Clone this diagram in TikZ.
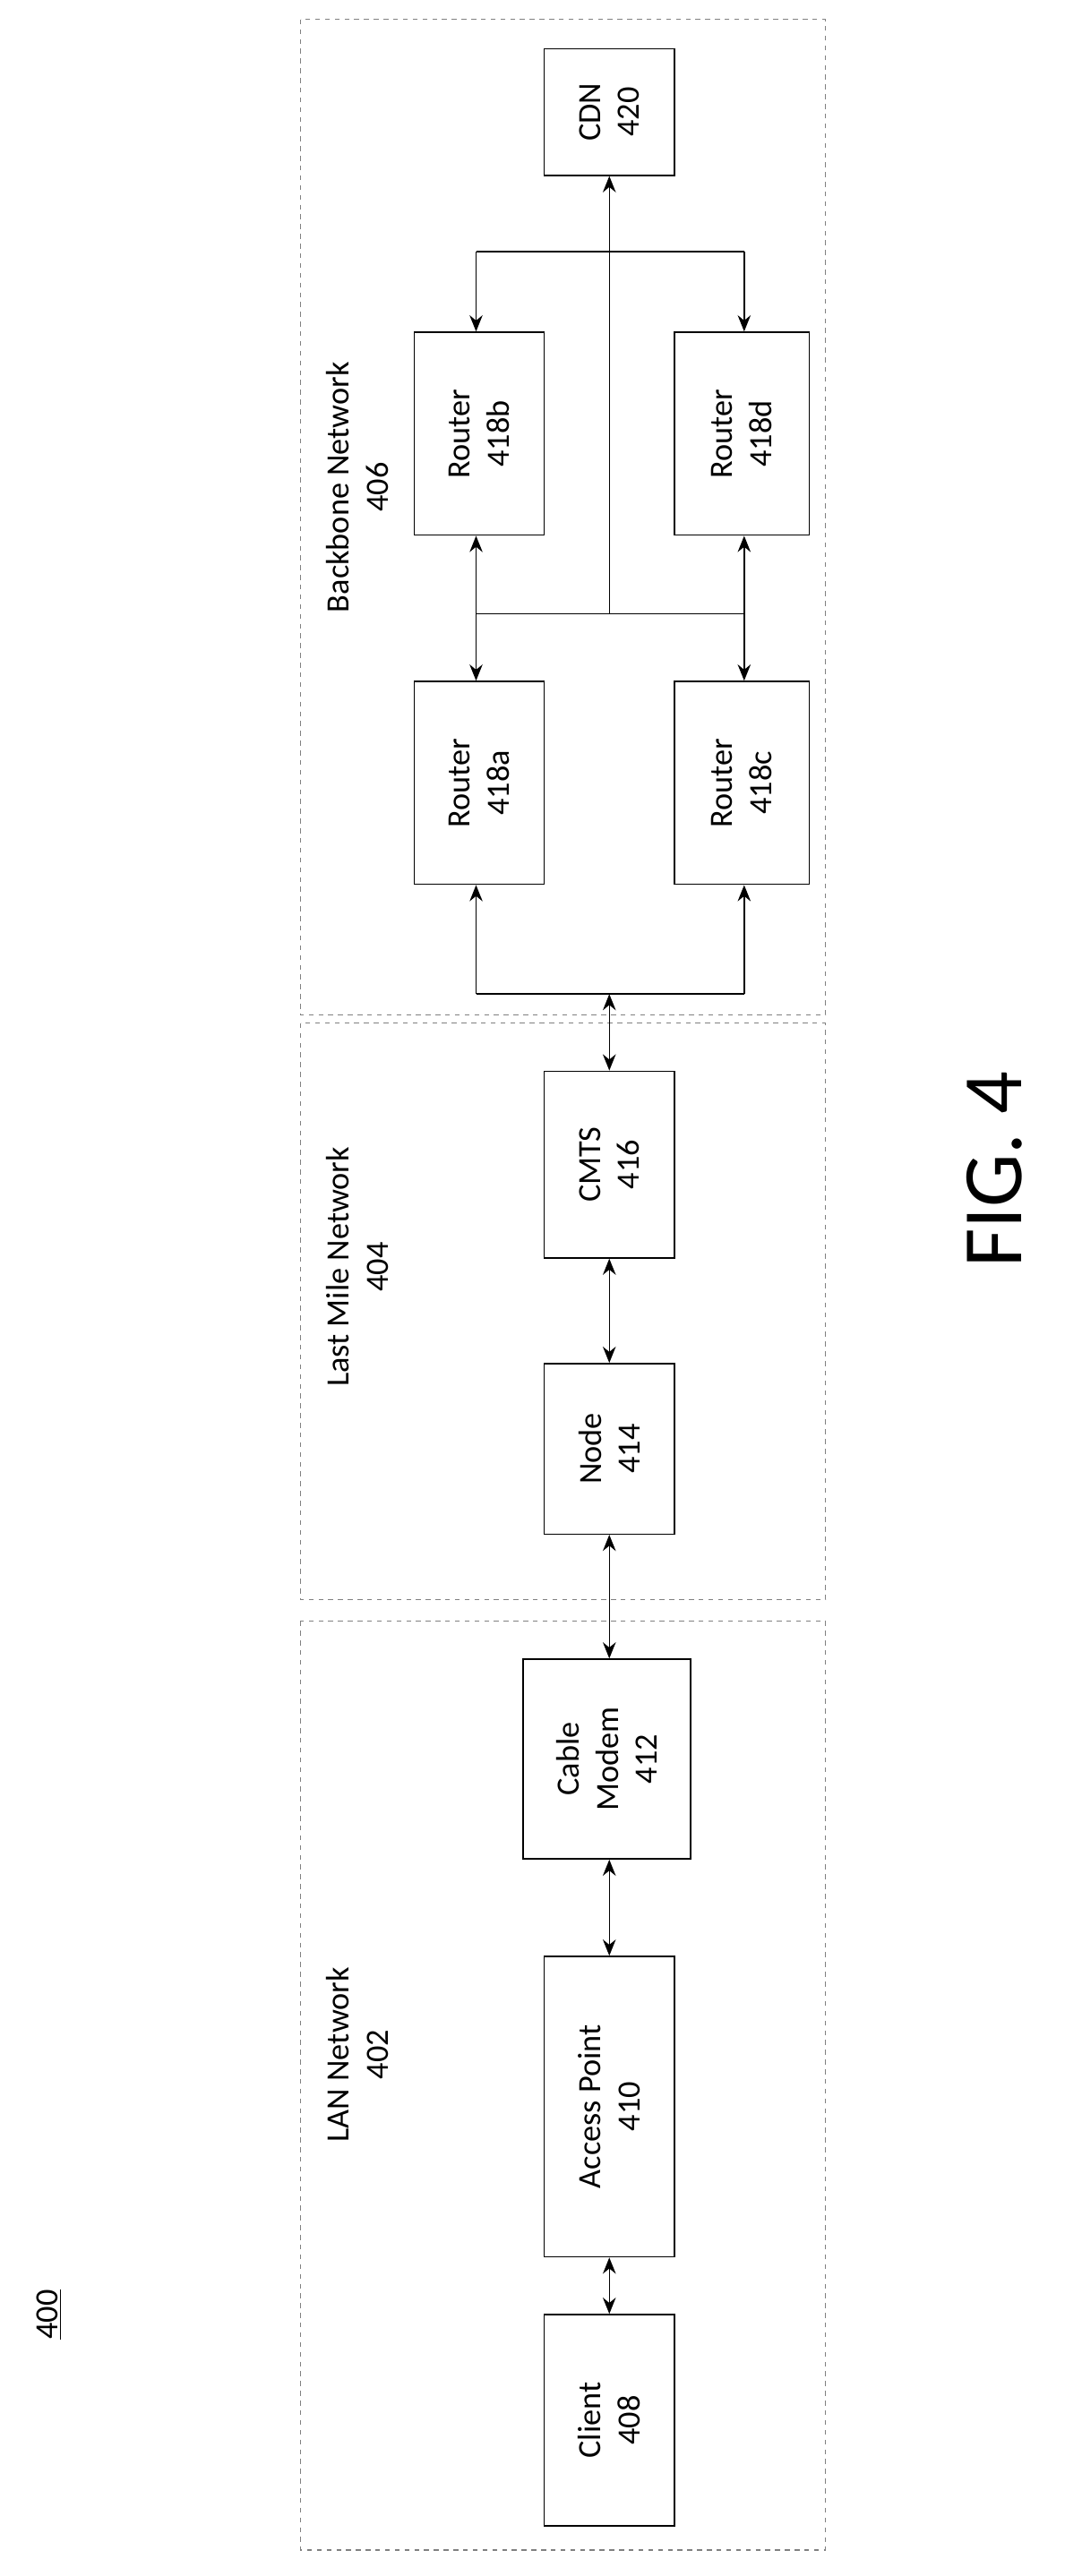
\documentclass[tikz,border=0pt]{standalone}
\usepackage{fontspec}
\setmainfont{Carlito}
\usetikzlibrary{arrows.meta}
\begin{document}
\begin{tikzpicture}[x=1pt,y=-1pt,
  box/.style={draw,line width=0.8pt,inner sep=0pt},
  lbl/.style={rotate=90,align=center,font=\fontsize{20}{24}\selectfont},
  grp/.style={draw=gray,dashed,line width=0.6pt},
  ar/.style={{Stealth[length=10pt,width=8pt]}-{Stealth[length=10pt,width=8pt]},line width=0.8pt},
  a1/.style={-{Stealth[length=10pt,width=8pt]},line width=0.8pt},
  ln/.style={line width=0.8pt}]
\useasboundingbox (0,0) rectangle (655,1586);
\draw[grp] (185,12) rectangle (508,625);
\draw[grp] (185,630) rectangle (508,985);
\draw[grp] (185,998) rectangle (508,1570);
\node[lbl] (lbb) at (220,300) {Backbone Network\\406};
\node[lbl] (llm) at (220,780) {Last Mile Network\\404};
\node[lbl] (llan) at (220,1265) {LAN Network\\402};
\node[rotate=90,font=\fontsize{20}{24}\selectfont] (n400) at (30,1425) {\underline{400}};
\node[rotate=90,font=\fontsize{52}{60}\selectfont] (fig) at (612,720) {FIG. 4};

\node[box,minimum width=80pt,minimum height=78pt] (cdn) at (375,69) {};
\node[lbl] at (cdn) {CDN\\420};
\node[box,minimum width=80pt,minimum height=125pt] (rb) at (295,267) {};
\node[lbl] at (rb) {Router\\418b};
\node[box,minimum width=83pt,minimum height=125pt] (rd) at (456.5,267) {};
\node[lbl] at (rd) {Router\\418d};
\node[box,minimum width=80pt,minimum height=125pt] (ra) at (295,482) {};
\node[lbl] at (ra) {Router\\418a};
\node[box,minimum width=83pt,minimum height=125pt] (rc) at (456.5,482) {};
\node[lbl] at (rc) {Router\\418c};
\node[box,minimum width=80pt,minimum height=115pt] (cmts) at (375,717) {};
\node[lbl] at (cmts) {CMTS\\416};
\node[box,minimum width=80pt,minimum height=105pt] (nd) at (375,892) {};
\node[lbl] at (nd) {Node\\414};
\node[box,minimum width=103pt,minimum height=123pt] (cm) at (373.5,1083) {};
\node[lbl] at (cm) {Cable\\Modem\\412};
\node[box,minimum width=80pt,minimum height=185pt] (ap) at (375,1297) {};
\node[lbl] at (ap) {Access Point\\410};
\node[box,minimum width=80pt,minimum height=130pt] (cl) at (375,1490) {};
\node[lbl] at (cl) {Client\\408};

\coordinate (t1) at (293,155); \coordinate (t2) at (458,155);
\coordinate (m) at (375,378); \coordinate (m1) at (293,378); \coordinate (m2) at (458,378);
\coordinate (b1) at (293,612); \coordinate (b2) at (458,612); \coordinate (bm) at (375,612);
\draw[ln] (t1) -- (t2);
\draw[a1] (t1) -- (t1 |- rb.north);
\draw[a1] (t2) -- (t2 |- rd.north);
\draw[a1] (m) -- (m |- cdn.south);
\draw[ln] (m1) -- (m2);
\draw[a1] (m1) -- (m1 |- rb.south);
\draw[a1] (m1) -- (m1 |- ra.north);
\draw[a1] (m2) -- (m2 |- rd.south);
\draw[a1] (m2) -- (m2 |- rc.north);
\draw[ln] (b1) -- (b2);
\draw[a1] (b1) -- (b1 |- ra.south);
\draw[a1] (b2) -- (b2 |- rc.south);
\draw[ar] (bm) -- (cmts.north);
\draw[ar] (cmts.south) -- (nd.north);
\draw[ar] (nd.south) -- (nd.south |- cm.north);
\draw[ar] (cm.south -| ap.north) -- (ap.north);
\draw[ar] (ap.south) -- (cl.north);
\end{tikzpicture}
\end{document}
